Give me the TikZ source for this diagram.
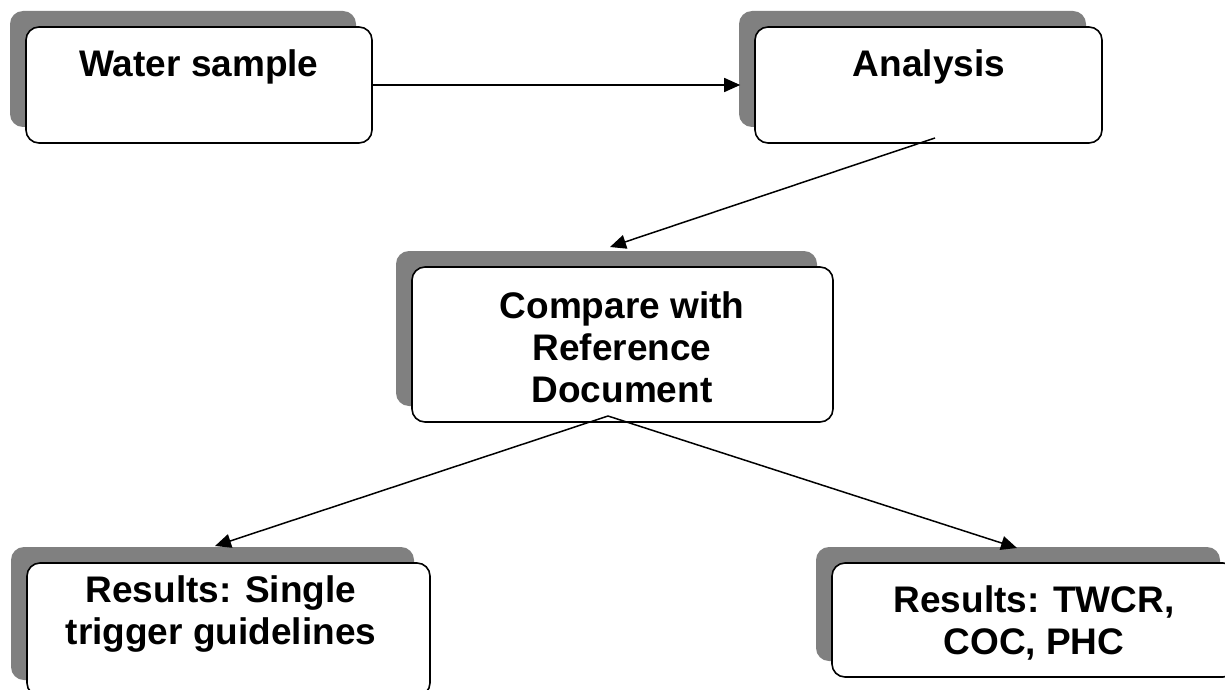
\documentclass[tikz,border=0pt]{standalone}
\usepackage{fontspec}
\setmainfont{Liberation Sans}
\usetikzlibrary{arrows.meta,shadows}
\definecolor{shadowgray}{RGB}{128,128,128}
\begin{document}
\begin{tikzpicture}[x=1pt,y=-1pt,
  box/.style={draw=black, line width=1.6pt, rounded corners=13pt, fill=white, inner sep=0pt,
    general shadow={fill=shadowgray, draw=none, shadow xshift=-16pt, shadow yshift=16pt}},
  lbl/.style={font=\fontsize{37}{42}\selectfont\bfseries, align=center, anchor=base, inner sep=0pt},
  conn/.style={line width=1.5pt, -{Triangle[length=16pt,width=14pt]}}]
\clip (0,0) rectangle (1225,690);
% boxes
\node[box, minimum width=346pt, minimum height=116pt] (b1) at (199,85) {};
\node[box, minimum width=347pt, minimum height=116pt] (b2) at (928.5,85) {};
\node[box, minimum width=421pt, minimum height=155pt] (b3) at (622.5,344.5) {};
\node[box, minimum width=403pt, minimum height=133pt] (b4) at (228.5,629.5) {};
\node[box, minimum width=404pt, minimum height=114pt] (b5) at (1034,620) {};
% texts (base anchor = baseline of the last line)
\node[lbl] (t1) at (199,77) {Water sample};
\node[lbl] (t2) at (929,77) {Analysis};
\node[lbl] (t3) at (622,402) {Compare with\\Reference\\Document};
\node[lbl] (t4) at (221,644) {Results: Single\\trigger guidelines};
\node[lbl] (t5) at (1034,654) {Results: TWCR,\\COC, PHC};
% connectors
\coordinate (a2s) at (935,138);
\coordinate (a2e) at (610,247);
\coordinate (fork) at (608,416);
\coordinate (a3e) at (215,546);
\coordinate (a4e) at (1017,548);
\draw[conn, shorten >=14pt] (b1.east) -- (b2.west);
\draw[conn] (a2s) -- (a2e);
\draw[conn] (fork) -- (a3e);
\draw[conn] (fork) -- (a4e);
\end{tikzpicture}
\end{document}
